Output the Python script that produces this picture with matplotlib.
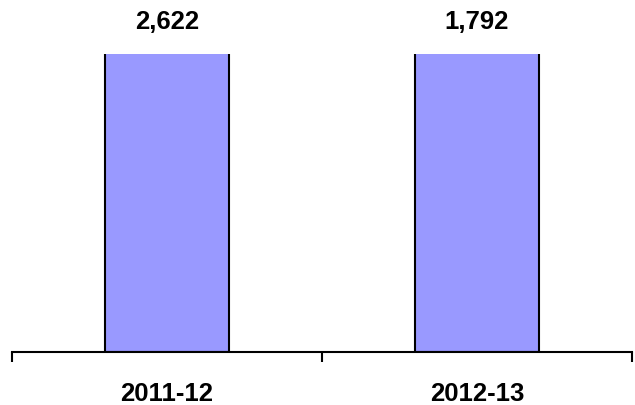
import numpy as np
import matplotlib.pyplot as plt

plt.rcParams['font.family'] = ['Liberation Sans', 'DejaVu Sans']

years = ['2011-12', '2012-13']
counts = [2622, 1792]

fig = plt.figure(figsize=(6.35, 4.06), dpi=100)
ax = fig.add_axes([0.019, 0.1305, 0.976, 0.734])

x = np.arange(len(years))
ax.bar(x, counts, width=0.4, color='#9999FF', edgecolor='black', linewidth=1.5)

# axis stops below both bars, so they run off the top
ax.set_ylim(0, 1500)
ax.set_xlim(-0.5, len(years) - 0.5)

for xi, c in zip(x, counts):
    ax.text(xi, 1.112, f'{c:,}', transform=ax.get_xaxis_transform(),
            ha='center', va='center', fontsize=18.5, fontweight='bold')

ax.set_xticks(x)
ax.set_xticklabels(years, fontsize=18.5, fontweight='bold')
ax.tick_params(axis='x', which='major', length=0, pad=21)
ax.set_xticks(np.arange(-0.5, len(years)), minor=True)
ax.tick_params(axis='x', which='minor', length=7, width=1.5, direction='out')
ax.set_yticks([])

for side in ['top', 'right', 'left']:
    ax.spines[side].set_visible(False)
ax.spines['bottom'].set_linewidth(1.5)

fig.savefig('out.png', dpi=100)
